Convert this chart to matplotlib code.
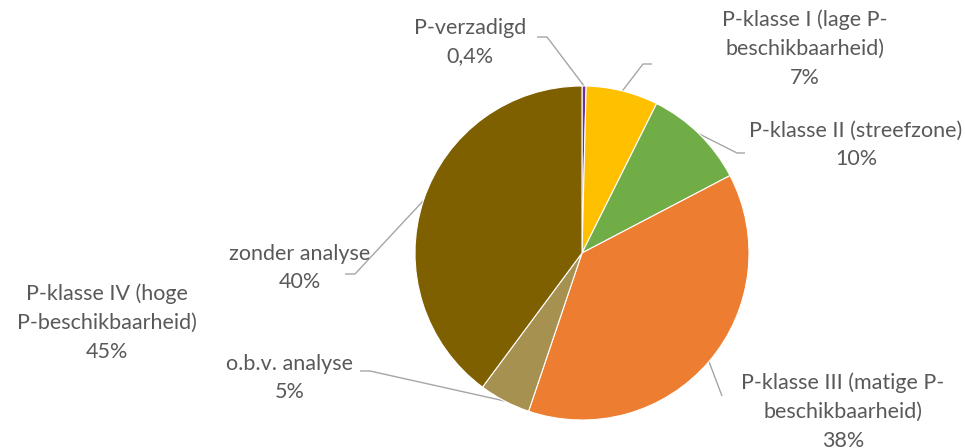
import numpy as np
import matplotlib.pyplot as plt

# P-toestand van percelen (aandeel in %)
categories = ['P-verzadigd', 'P-klasse I (lage P-\nbeschikbaarheid)', 'P-klasse II (streefzone)',
              'P-klasse III (matige P-\nbeschikbaarheid)', 'o.b.v. analyse', 'zonder analyse']
shares = [0.4, 7, 10, 38, 5, 40]
share_labels = ['0,4%', '7%', '10%', '38%', '5%', '40%']
colors = ['#7030A0', '#FFC000', '#70AD47', '#ED7D31', '#A69150', '#7F6000']

# klasse IV = som van de twee bruine delen
klasse_iv_label = 'P-klasse IV (hoge\nP-beschikbaarheid)'
klasse_iv_share = shares[4] + shares[5]

W, H = 965, 448
fig = plt.figure(figsize=(W / 100, H / 100), dpi=100)
ax = fig.add_axes([0, 0, 1, 1])

plt.rcParams['font.family'] = ['Lato', 'DejaVu Sans']
txt_color = '#595959'
line_color = '#A6A6A6'
fs = 15.5
lsp = 1.55


def py(y):
    # pixel rows counted from the top
    return H - y


cx, cy, r = 582, py(253), 167
wedges, _ = ax.pie(shares, colors=colors, startangle=90, counterclock=False,
                   center=(cx, cy), radius=r, frame=True,
                   wedgeprops=dict(edgecolor='white', linewidth=0.8))
ax.set_xlim(0, W)
ax.set_ylim(0, H)
ax.set_aspect('equal')
ax.axis('off')

# label centre (x, y) and leader-line bend points, in pixel rows from the top
label_pos = [(470, 42), (805, 49), (856, 145), (843, 412), (290, 378), (300, 268)]
leader_pts = [
    [(547, 37), (537, 37)],
    [(643, 64), (652, 64)],
    [(737, 153), (745, 153)],
    [(722, 396)],
    [(370, 371), (360, 371)],
    [(355, 274), (345, 274)],
]

for w, name, lab, (lx, ly), pts in zip(wedges, categories, share_labels, label_pos, leader_pts):
    mid = np.deg2rad((w.theta1 + w.theta2) / 2)
    xs = [cx + r * np.cos(mid)] + [p[0] for p in pts]
    ys = [cy + r * np.sin(mid)] + [py(p[1]) for p in pts]
    ax.plot(xs, ys, color=line_color, lw=1, solid_capstyle='butt', zorder=0)
    ax.text(lx, py(ly), name + '\n' + lab, ha='center', va='center', color=txt_color,
            fontsize=fs, linespacing=lsp)

ax.text(107, py(323), f'{klasse_iv_label}\n{klasse_iv_share:.0f}%', ha='center', va='center',
        color=txt_color, fontsize=fs, linespacing=lsp)

fig.savefig('out.png', dpi=100)
